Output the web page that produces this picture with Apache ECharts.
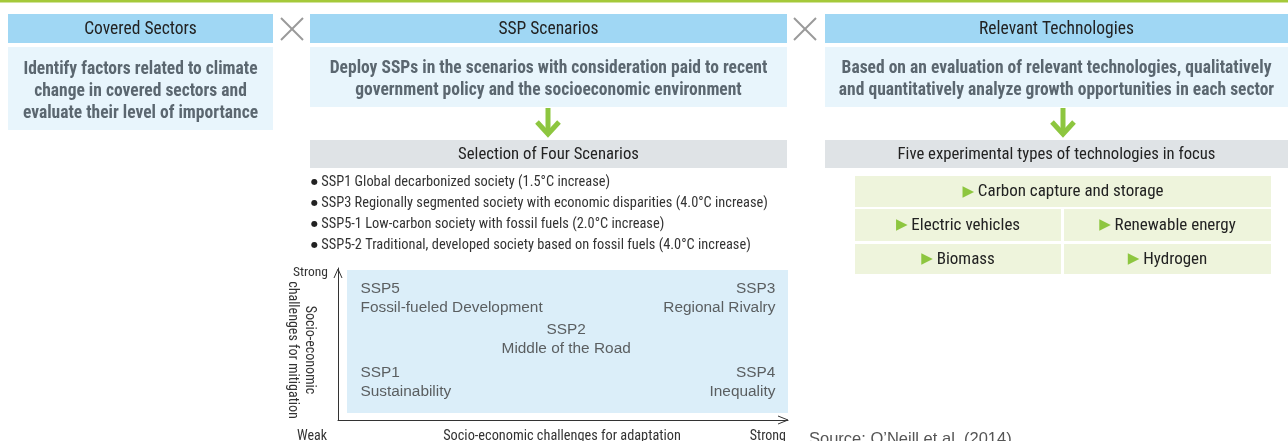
<!DOCTYPE html>
<html><head><meta charset="utf-8">
<script src="https://cdn.jsdelivr.net/npm/echarts@6/dist/echarts.min.js"></script>
<style>html,body{margin:0;padding:0;background:#fff}#c{width:1288px;height:441px}</style>
</head><body><div id="c"></div>
<script>
const stepHeaders = ['Covered Sectors', 'SSP Scenarios', 'Relevant Technologies'];
const stepDescriptions = [
  'Identify factors related to climate\nchange in covered sectors and\nevaluate their level of importance',
  'Deploy SSPs in the scenarios with consideration paid to recent\ngovernment policy and the socioeconomic environment',
  'Based on an evaluation of relevant technologies, qualitatively\nand quantitatively analyze growth opportunities in each sector'
];
const stepResults = ['Selection of Four Scenarios', 'Five experimental types of technologies in focus'];
const scenarioBullets = [
  'SSP1 Global decarbonized society (1.5°C increase)',
  'SSP3 Regionally segmented society with economic disparities (4.0°C increase)',
  'SSP5-1 Low-carbon society with fossil fuels (2.0°C increase)',
  'SSP5-2 Traditional, developed society based on fossil fuels (4.0°C increase)'
];
const technologies = ['Carbon capture and storage', 'Electric vehicles', 'Renewable energy', 'Biomass', 'Hydrogen'];
const sspCodes = ['SSP5', 'SSP3', 'SSP2', 'SSP1', 'SSP4'];
const sspNames = ['Fossil-fueled Development', 'Regional Rivalry', 'Middle of the Road', 'Sustainability', 'Inequality'];
const sspAdaptation = [5, 97.2, 50.7, 5, 97.2];
const sspMitigation = [80, 80, 53, 25, 25];
const sspAlign = ['left', 'right', 'center', 'left', 'right'];
const axisTexts = { yTop: 'Strong', yTitle: 'Socio-economic\nchallenges for mitigation', xLeft: 'Weak', xTitle: 'Socio-economic challenges for adaptation', xRight: 'Strong' };
const sourceText = 'Source: O\u2019Neill et al. (2014)';

const NARROW = '"Liberation Sans Narrow", "Roboto Condensed", "DejaVu Sans Condensed", sans-serif';
const SANS = '"Liberation Sans", Arial, sans-serif';
const C = {
  green: '#8dc63f', topLine: '#a5c93a', head: '#a0d7f4', body: '#e8f5fc', gray: '#dfe3e6',
  tech: '#eef4dc', matrix: '#dbeef9', cross: '#9a9a9a', bodyText: '#5b6770', text: '#222', bullet: '#333'
};

const chart = echarts.init(document.getElementById('c'), null, { renderer: 'canvas' });
const g = [];
function rect(x, y, w, h, fill) { g.push({ type: 'rect', silent: true, z: 1, shape: { x, y, width: w, height: h }, style: { fill } }); }
function text(t, x, y, font, fill, align, lh, extra, rich) {
  const st = { text: t, x: 0, y: 0, font, fill, textAlign: align || 'center', textVerticalAlign: 'middle', lineHeight: lh || 20 };
  if (rich) st.rich = rich;
  g.push(Object.assign({ type: 'text', silent: true, z: 5, x, y, style: st }, extra || {}));
}
function line(x1, y1, x2, y2, stroke, w) { g.push({ type: 'line', silent: true, z: 4, shape: { x1, y1, x2, y2 }, style: { stroke, lineWidth: w } }); }
function poly(points, stroke, w) { g.push({ type: 'polyline', silent: true, z: 4, shape: { points }, style: { stroke, lineWidth: w, fill: null } }); }

// top line
rect(0, 0, 1288, 2.5, C.topLine);
// columns
const cols = [{ x: 8, w: 265, bodyH: 83 }, { x: 310, w: 477, bodyH: 60 }, { x: 825, w: 463, bodyH: 60 }];
cols.forEach((c, i) => {
  rect(c.x, 14, c.w, 29, C.head);
  text(stepHeaders[i], c.x + c.w / 2, 29.5, '17.5px ' + NARROW, C.text);
  rect(c.x, 47, c.w, c.bodyH, C.body);
  text(stepDescriptions[i], c.x + c.w / 2, 47 + c.bodyH / 2 + 3, 'bold 17.5px ' + NARROW, C.bodyText, 'center', 22);
});
// crosses
[292, 805].forEach(cx => { line(cx - 11, 18, cx + 11, 40, C.cross, 2); line(cx + 11, 18, cx - 11, 40, C.cross, 2); });
// down arrows + result boxes
[[1, 548], [2, 1063]].forEach(([ci, ax], k) => {
  line(ax, 108, ax, 134, C.green, 5);
  poly([[ax - 11, 122], [ax, 134], [ax + 11, 122]], C.green, 5);
  const c = cols[ci];
  rect(c.x, 140, c.w, 28, C.gray);
  text(stepResults[k], c.x + c.w / 2, 155, '16.7px ' + NARROW, C.text);
});
// bullets
scenarioBullets.forEach((b, i) => text('{b|\u25CF} ' + b, 311, 182 + i * 21, '14.4px ' + NARROW, C.bullet, 'left', 20, null,
  { b: { font: '8px "DejaVu Sans"', fill: '#222' } }));
// technology boxes
const techBoxes = [[855, 176, 416, 31], [855, 209, 206, 32], [1064, 209, 207, 32], [855, 244, 206, 30], [1064, 244, 207, 30]];
techBoxes.forEach((b, i) => {
  rect(b[0], b[1], b[2], b[3], C.tech);
  g.push({ type: 'text', silent: true, z: 5, x: b[0] + b[2] / 2, y: b[1] + b[3] / 2 + 0.5,
    style: { text: '{t|\u25B6} ' + technologies[i], x: 0, y: 0, textAlign: 'center', textVerticalAlign: 'middle', font: '17px ' + NARROW, fill: C.text,
      rich: { t: { fill: C.green, font: '15px "DejaVu Sans"' } } } });
});
// axis decorations
poly([[334, 278], [338, 269], [342, 278]], '#333', 1);
poly([[778, 416], [788, 420], [778, 424]], '#333', 1);
text(axisTexts.yTop, 328, 273, '13.5px ' + NARROW, C.bullet, 'right');
text(axisTexts.yTitle, 301, 350, '14px ' + NARROW, C.bullet, 'center', 17, { rotation: -Math.PI / 2 });
text(axisTexts.xLeft, 297, 436, '14px ' + NARROW, C.bullet, 'left');
text(axisTexts.xTitle, 562, 436, '14.3px ' + NARROW, C.bullet, 'center');
text(axisTexts.xRight, 786, 436, '14px ' + NARROW, C.bullet, 'right');
text(sourceText, 809, 439, '16.5px ' + SANS, '#555', 'left');

const option = {
  animation: false,
  grid: { left: 338, top: 268, width: 450, height: 152, containLabel: false },
  xAxis: { type: 'value', min: 0, max: 100, axisLine: { show: true, lineStyle: { color: '#333', width: 1 } }, axisTick: { show: false }, axisLabel: { show: false }, splitLine: { show: false } },
  yAxis: { type: 'value', min: 0, max: 100, axisLine: { show: true, lineStyle: { color: '#333', width: 1 } }, axisTick: { show: false }, axisLabel: { show: false }, splitLine: { show: false } },
  series: [{
    type: 'scatter', symbolSize: 0, clip: false, silent: true,
    markArea: { silent: true, itemStyle: { color: C.matrix }, data: [[{ xAxis: 2, yAxis: 4.6 }, { xAxis: 100, yAxis: 98.7 }]] },
    data: sspCodes.map((c, i) => ({
      value: [sspAdaptation[i], sspMitigation[i]],
      label: { show: true, position: 'inside', align: sspAlign[i], verticalAlign: 'middle', formatter: c + '\n' + sspNames[i], lineHeight: 18.5,
        fontFamily: SANS, fontSize: 15.4, color: '#3a3a3a' }
    }))
  }],
  graphic: g
};
chart.setOption(option);
</script></body></html>
